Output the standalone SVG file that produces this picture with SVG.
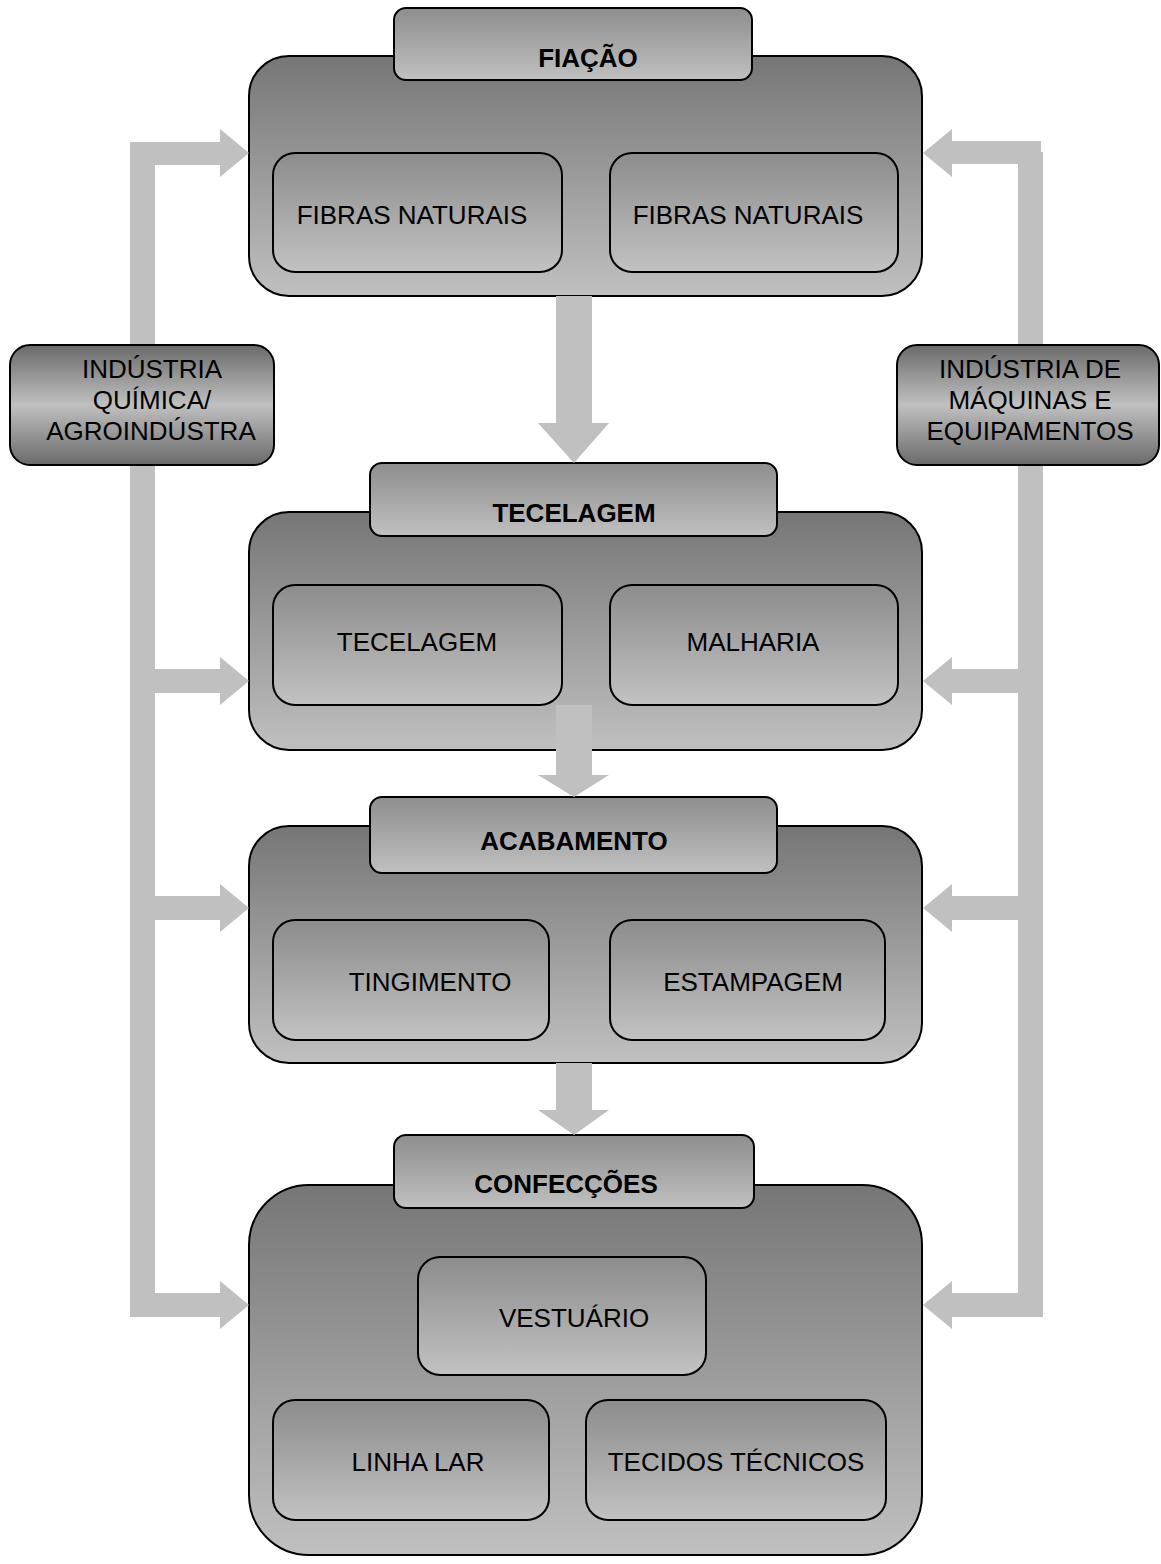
<svg xmlns="http://www.w3.org/2000/svg" width="1161" height="1564" viewBox="0 0 1161 1564">
  <defs>
    <linearGradient id="gMain" x1="0" y1="0" x2="0" y2="1">
      <stop offset="0" stop-color="#767676"/>
      <stop offset="1" stop-color="#c0c0c0"/>
    </linearGradient>
    <linearGradient id="gInner" x1="0" y1="0" x2="0" y2="1">
      <stop offset="0" stop-color="#8c8c8c"/>
      <stop offset="1" stop-color="#c2c2c2"/>
    </linearGradient>
    <linearGradient id="gTab" x1="0" y1="0" x2="0" y2="1">
      <stop offset="0" stop-color="#8e8e8e"/>
      <stop offset="1" stop-color="#c0c0c0"/>
    </linearGradient>
    <linearGradient id="gSide" x1="0" y1="0" x2="0" y2="1">
      <stop offset="0" stop-color="#6a6a6a"/>
      <stop offset="0.5" stop-color="#c0c0c0"/>
      <stop offset="1" stop-color="#6a6a6a"/>
    </linearGradient>
  </defs>
  <style>
    .main { fill: url(#gMain); stroke: #000; stroke-width: 2; }
    .inner { fill: url(#gInner); stroke: #000; stroke-width: 2; }
    .tab { fill: url(#gTab); stroke: #000; stroke-width: 2; }
    .side { fill: url(#gSide); stroke: #000; stroke-width: 2; }
    .flow { fill: #c0c0c0; stroke: none; }
    text { font-family: "Liberation Sans", Arial, sans-serif; font-size: 26px; fill: #000; text-anchor: middle; }
    .title { font-weight: bold; }
  </style>

  <rect width="1161" height="1564" fill="#fff"/>

  <!-- Stage: FIAÇÃO -->
  <g id="fiacao">
    <rect class="main" x="249" y="56" width="673" height="240" rx="40"/>
    <rect class="tab" x="394" y="8" width="358" height="72" rx="12"/>
    <text class="title" x="588" y="67">FIAÇÃO</text>
    <g id="fiacao-fibras-1">
      <rect class="inner" x="273" y="153" width="289" height="119" rx="22"/>
      <text x="412" y="224">FIBRAS NATURAIS</text>
    </g>
    <g id="fiacao-fibras-2">
      <rect class="inner" x="610" y="153" width="288" height="119" rx="22"/>
      <text x="748" y="224">FIBRAS NATURAIS</text>
    </g>
  </g>

  <!-- Stage: TECELAGEM -->
  <g id="tecelagem">
    <rect class="main" x="249" y="512" width="673" height="238" rx="40"/>
    <rect class="tab" x="370" y="463" width="407" height="73" rx="12"/>
    <text class="title" x="574" y="522">TECELAGEM</text>
    <g id="tecelagem-tecelagem">
      <rect class="inner" x="273" y="585" width="289" height="120" rx="22"/>
      <text x="417" y="651">TECELAGEM</text>
    </g>
    <g id="tecelagem-malharia">
      <rect class="inner" x="610" y="585" width="288" height="120" rx="22"/>
      <text x="753" y="651">MALHARIA</text>
    </g>
  </g>

  <!-- Stage: ACABAMENTO -->
  <g id="acabamento">
    <rect class="main" x="249" y="826" width="673" height="237" rx="40"/>
    <rect class="tab" x="370" y="797" width="407" height="76" rx="12"/>
    <text class="title" x="574" y="850">ACABAMENTO</text>
    <g id="acabamento-tingimento">
      <rect class="inner" x="273" y="920" width="276" height="120" rx="22"/>
      <text x="430" y="991">TINGIMENTO</text>
    </g>
    <g id="acabamento-estampagem">
      <rect class="inner" x="610" y="920" width="275" height="120" rx="22"/>
      <text x="753" y="991">ESTAMPAGEM</text>
    </g>
  </g>

  <!-- Stage: CONFECÇÕES -->
  <g id="confeccoes">
    <rect class="main" x="249" y="1185" width="673" height="370" rx="60"/>
    <rect class="tab" x="394" y="1135" width="360" height="73" rx="12"/>
    <text class="title" x="566" y="1193">CONFECÇÕES</text>
    <g id="confeccoes-vestuario">
      <rect class="inner" x="418" y="1257" width="288" height="118" rx="22"/>
      <text x="574" y="1327">VESTUÁRIO</text>
    </g>
    <g id="confeccoes-linha-lar">
      <rect class="inner" x="273" y="1400" width="276" height="120" rx="22"/>
      <text x="418" y="1471">LINHA LAR</text>
    </g>
    <g id="confeccoes-tecidos-tecnicos">
      <rect class="inner" x="586" y="1400" width="300" height="120" rx="22"/>
      <text x="736" y="1471">TECIDOS TÉCNICOS</text>
    </g>
  </g>

  <!-- Block arrows: main flow and supplier feeds -->
  <g id="connectors">
    <!-- FIAÇÃO -> TECELAGEM -->
    <polygon class="flow" points="556,296 592,296 592,423 609,423 574,463 538,423 556,423"/>
    <!-- TECELAGEM -> ACABAMENTO -->
    <polygon class="flow" points="556,705 592,705 592,775 609,775 574,797 538,775 556,775"/>
    <!-- ACABAMENTO -> CONFECÇÕES -->
    <polygon class="flow" points="556,1063 592,1063 592,1110 609,1110 574,1135 538,1110 556,1110"/>

    <!-- Left supplier feed -->
    <rect class="flow" x="130" y="142" width="25" height="1175"/>
    <rect class="flow" x="130" y="142" width="90" height="23"/>
    <polygon class="flow" points="220,129 249,153 220,177"/>
    <rect class="flow" x="155" y="669" width="65" height="24"/>
    <polygon class="flow" points="220,657 249,681 220,705"/>
    <rect class="flow" x="155" y="896" width="65" height="24"/>
    <polygon class="flow" points="220,884 249,908 220,932"/>
    <rect class="flow" x="130" y="1293" width="90" height="24"/>
    <polygon class="flow" points="220,1281 249,1305 220,1329"/>

    <!-- Right supplier feed -->
    <rect class="flow" x="1018" y="152" width="25" height="1165"/>
    <rect class="flow" x="952" y="141" width="89" height="23"/>
    <polygon class="flow" points="952,129 923,153 952,177"/>
    <rect class="flow" x="952" y="669" width="66" height="24"/>
    <polygon class="flow" points="952,657 923,681 952,705"/>
    <rect class="flow" x="952" y="896" width="66" height="24"/>
    <polygon class="flow" points="952,884 923,908 952,932"/>
    <rect class="flow" x="952" y="1293" width="90" height="24"/>
    <polygon class="flow" points="952,1281 923,1305 952,1329"/>
  </g>

  <!-- Supplier industries -->
  <g id="industria-quimica">
    <rect class="side" x="10" y="345" width="264" height="120" rx="20"/>
    <text x="152" y="378">INDÚSTRIA</text>
    <text x="152" y="409">QUÍMICA/</text>
    <text x="151" y="440">AGROINDÚSTRA</text>
  </g>
  <g id="industria-maquinas">
    <rect class="side" x="897" y="345" width="262" height="120" rx="20"/>
    <text x="1030" y="378">INDÚSTRIA DE</text>
    <text x="1030" y="409">MÁQUINAS E</text>
    <text x="1030" y="440">EQUIPAMENTOS</text>
  </g>
</svg>
